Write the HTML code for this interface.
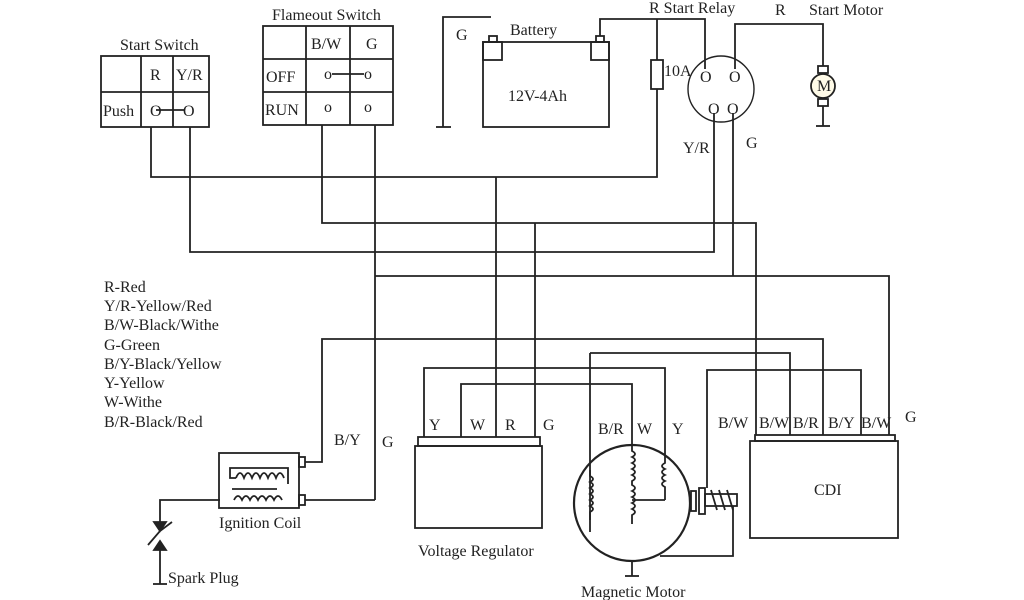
<!DOCTYPE html>
<html><head><meta charset="utf-8"><style>
html,body{margin:0;padding:0;background:#fff;}
svg{display:block;}
text{font-family:"Liberation Serif",serif;fill:#222;font-size:16px;}
</style></head><body>
<svg width="1024" height="600" viewBox="0 0 1024 600" xmlns="http://www.w3.org/2000/svg">
<g fill="none" stroke="#222" stroke-width="1.8">
<rect x="101" y="56" width="108" height="71"/>
<line x1="101" y1="92" x2="209" y2="92"/>
<line x1="141" y1="56" x2="141" y2="127"/>
<line x1="173" y1="56" x2="173" y2="127"/>
<rect x="263" y="26" width="130" height="99"/>
<line x1="263" y1="59" x2="393" y2="59"/>
<line x1="263" y1="92" x2="393" y2="92"/>
<line x1="306" y1="26" x2="306" y2="125"/>
<line x1="350" y1="26" x2="350" y2="125"/>
<line x1="156" y1="110" x2="184" y2="110"/>
<line x1="332" y1="74" x2="364" y2="74"/>
<rect x="483" y="42" width="126" height="85"/>
<rect x="483" y="42" width="19" height="18"/>
<rect x="489" y="36" width="8" height="6"/>
<rect x="591" y="42" width="18" height="18"/>
<rect x="596" y="36" width="8" height="6"/>
<polyline points="491,17 443,17 443,127"/>
<line x1="436" y1="127" x2="451" y2="127"/>
<polyline points="600,36 600,19 705,19 705,69"/>
<line x1="657" y1="19" x2="657" y2="60"/>
<rect x="651" y="60" width="12" height="29"/>
<circle cx="721" cy="89" r="33" stroke-width="1.4"/>
<polyline points="735,69 735,24 823,24 823,66"/>
<rect x="818" y="66" width="10" height="7"/>
<circle cx="823" cy="86" r="12" fill="#fffbe8"/>
<rect x="818" y="99" width="10" height="7"/>
<line x1="823" y1="106" x2="823" y2="126"/>
<line x1="816" y1="126" x2="830" y2="126"/>
<polyline points="151,127 151,177 657,177 657,89"/>
<polyline points="190,127 190,252 714,252 714,113"/>
<polyline points="322,125 322,223 756,223 756,435"/>
<polyline points="733,113 733,276"/>
<line x1="375" y1="125" x2="375" y2="500"/>
<polyline points="375,276 889,276 889,435"/>
<line x1="496" y1="177" x2="496" y2="437"/>
<line x1="535" y1="223" x2="535" y2="437"/>
<polyline points="305,462 322,462 322,339 823,339 823,435"/>
<polyline points="590,353 790,353 790,435"/>
<polyline points="424,437 424,368 665,368 665,455"/>
<polyline points="461,437 461,384 632,384 632,445"/>
<polyline points="707,488 707,370 861,370 861,435"/>
<line x1="590" y1="353" x2="590" y2="520"/>
<polyline points="305,500 375,500"/>
<rect x="219" y="453" width="80" height="55"/>
<rect x="299" y="457" width="6" height="10"/>
<rect x="299" y="495" width="6" height="10"/>
<polyline points="288,484 288,468 230,468 230,478 236,478"/>
<path d="M236,478 q4,-10 8,0 q4,-10 8,0 q4,-10 8,0 q4,-10 8,0 q4,-10 8,0 q4,-10 8,0"/>
<line x1="232" y1="489" x2="277" y2="489"/>
<path d="M234,500 q4,-8 8,0 q4,-8 8,0 q4,-8 8,0 q4,-8 8,0 q4,-8 8,0 q4,-8 8,0"/>
<polyline points="220,500 160,500 160,522"/>
<line x1="160" y1="550" x2="160" y2="584"/>
<line x1="153" y1="584" x2="167" y2="584"/>
<path d="M154,522 L166,522 L160,531 Z" fill="#222"/>
<path d="M154,550 L166,550 L160,541 Z" fill="#222"/>
<polyline points="148,545 160,531 172,522"/>
<rect x="418" y="437" width="122" height="9"/>
<rect x="415" y="446" width="127" height="82"/>
<circle cx="632" cy="503" r="58" stroke-width="2.2"/>
<line x1="632" y1="561" x2="632" y2="576"/>
<line x1="625" y1="576" x2="639" y2="576"/>
<path d="M590,470 v6 q6,3 0,6 q6,3 0,6 q6,3 0,6 q6,3 0,6 q6,3 0,6 q6,3 0,6 v20"/>
<path d="M632,445 v6 q6,3 0,6 q6,3 0,6 q6,3 0,6 q6,3 0,6 q6,3 0,6 v4 q6,3 0,6 q6,3 0,6 q6,3 0,6 q6,3 0,6 q6,3 0,6 v9"/>
<line x1="632" y1="500" x2="665" y2="500"/>
<path d="M665,455 v8 q-6,3 0,6 q-6,3 0,6 q-6,3 0,6 q-6,3 0,6 v13"/>
<rect x="691" y="491" width="5" height="20"/>
<rect x="699" y="488" width="6" height="26"/>
<rect x="705" y="494" width="32" height="12"/>
<path d="M711,490 l6,20 M719,490 l6,20 M727,490 l6,20"/>
<polyline points="733,506 733,556 660,556"/>
<rect x="755" y="435" width="140" height="6"/>
<rect x="750" y="441" width="148" height="97"/>
</g>
<text x="120" y="50">Start Switch</text>
<text x="150" y="80">R</text><text x="176" y="80">Y/R</text>
<text x="103" y="116">Push</text>
<text x="150" y="116">O</text><text x="183" y="116">O</text>
<text x="272" y="20">Flameout Switch</text>
<text x="311" y="49">B/W</text><text x="366" y="49">G</text>
<text x="266" y="82">OFF</text><text x="265" y="115">RUN</text>
<text x="324" y="79" font-size="13">o</text><text x="364" y="79" font-size="13">o</text>
<text x="324" y="112" font-size="13">o</text><text x="364" y="112" font-size="13">o</text>
<text x="456" y="40">G</text>
<text x="510" y="35">Battery</text>
<text x="508" y="101">12V-4Ah</text>
<text x="664" y="76">10A</text>
<text x="649" y="13">R Start Relay</text>
<text x="775" y="15">R</text>
<text x="809" y="15">Start Motor</text>
<text x="700" y="82">O</text><text x="729" y="82">O</text>
<text x="708" y="114">O</text><text x="727" y="114">O</text>
<text x="817" y="91" font-size="13">M</text>
<text x="683" y="153">Y/R</text>
<text x="746" y="148">G</text>
<text x="104" y="292">R-Red</text>
<text x="104" y="311">Y/R-Yellow/Red</text>
<text x="104" y="330">B/W-Black/Withe</text>
<text x="104" y="350">G-Green</text>
<text x="104" y="369">B/Y-Black/Yellow</text>
<text x="104" y="388">Y-Yellow</text>
<text x="104" y="407">W-Withe</text>
<text x="104" y="427">B/R-Black/Red</text>
<text x="334" y="445">B/Y</text>
<text x="382" y="447">G</text>
<text x="219" y="528">Ignition Coil</text>
<text x="168" y="583">Spark Plug</text>
<text x="429" y="430">Y</text><text x="470" y="430">W</text><text x="505" y="430">R</text><text x="543" y="430">G</text>
<text x="418" y="556">Voltage Regulator</text>
<text x="598" y="434">B/R</text><text x="637" y="434">W</text><text x="672" y="434">Y</text>
<text x="581" y="597">Magnetic Motor</text>
<text x="718" y="428">B/W</text><text x="759" y="428">B/W</text><text x="793" y="428">B/R</text><text x="828" y="428">B/Y</text><text x="861" y="428">B/W</text><text x="905" y="422">G</text>
<text x="814" y="495">CDI</text>
</svg>
</body></html>
